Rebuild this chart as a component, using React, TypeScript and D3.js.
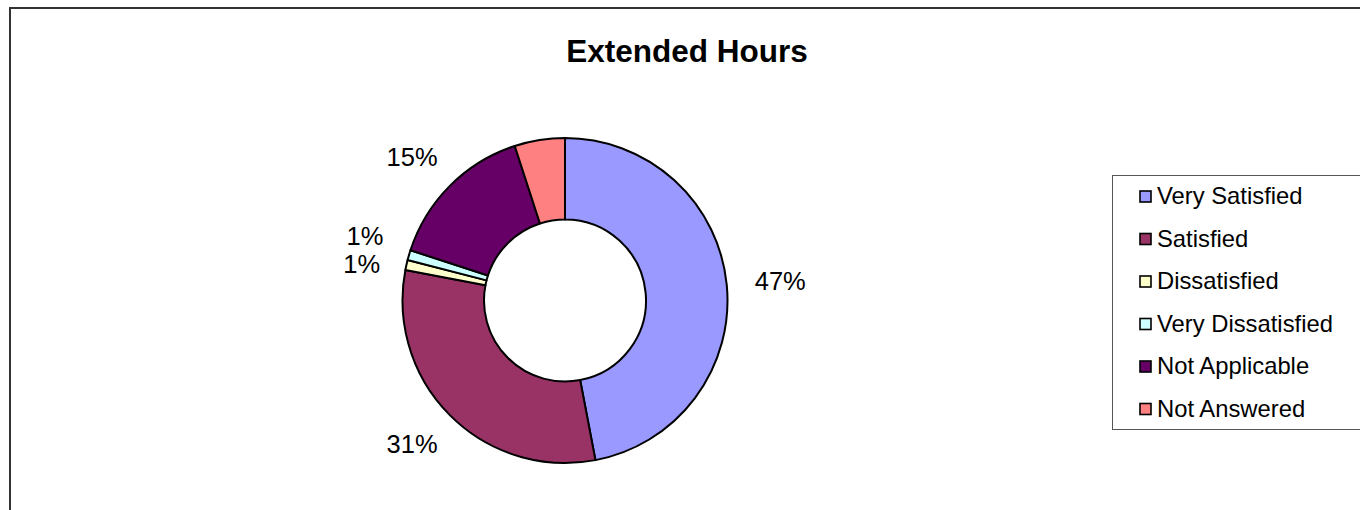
import React, { useEffect } from "react";
import * as d3 from "d3";

const categories = ["Very Satisfied", "Satisfied", "Dissatisfied", "Very Dissatisfied", "Not Applicable", "Not Answered"];
const values = [47, 31, 1, 1, 15, 5];
const showLabel = [true, true, true, true, true, false];
const colors = ["#9999FF", "#993366", "#FFFFCC", "#CCFFFF", "#660066", "#FF8080"];
const title = "Extended Hours";

const W = 1360;
const H = 510;

export default function App() {
  useEffect(() => {
    document.body.style.margin = "0";
  }, []);

  const cx = 565;
  const cy = 300.5;
  const rOut = 162.5;
  const rIn = 81;

  const total = d3.sum(values);
  const pie = d3.pie<number>().sort(null).value((d) => d);
  const arcs = pie(values);
  const arcGen = d3.arc<d3.PieArcDatum<number>>().innerRadius(rIn).outerRadius(rOut);

  const labelFont = 25.5;
  const labelH = 20;
  const labels = arcs.map((a, i) => {
    const text = `${Math.round((values[i] / total) * 100)}%`;
    const theta = (a.startAngle + a.endAngle) / 2;
    const w = text.length * labelFont * 0.62;
    const R = rOut + 30;
    const ax = cx + R * Math.sin(theta);
    const ay = cy - R * Math.cos(theta);
    return {
      text,
      show: showLabel[i],
      x: ax + (w / 2) * Math.sin(theta),
      y: ay - (labelH / 2) * Math.cos(theta),
    };
  });
  // simple vertical collision avoidance for labels on the same side
  const minGap = 28;
  const shown = labels.filter((l) => l.show);
  for (let iter = 0; iter < 20; iter++) {
    for (let i = 0; i < shown.length; i++) {
      for (let j = i + 1; j < shown.length; j++) {
        const a = shown[i];
        const b = shown[j];
        if (Math.abs(a.x - b.x) < 60 && Math.abs(a.y - b.y) < minGap) {
          const push = (minGap - Math.abs(a.y - b.y)) / 2;
          if (a.y <= b.y) {
            a.y -= push;
            b.y += push;
          } else {
            a.y += push;
            b.y -= push;
          }
        }
      }
    }
  }

  const legendX = 1112.5;
  const legendTop = 175.5;
  const legendBottom = 429.5;
  const rowY = d3.scalePoint<string>().domain(categories).range([196.5, 409]);

  return (
    <svg width={W} height={H} style={{ display: "block", background: "#fff" }}>
      <rect x={10} y={8} width={W + 20} height={H + 20} fill="#fff" stroke="#333" strokeWidth={2} />
      <text
        x={687}
        y={62}
        textAnchor="middle"
        fontFamily="'Liberation Sans', Arial, sans-serif"
        fontWeight="bold"
        fontSize={31.5}
        fill="#000"
      >
        {title}
      </text>
      <g transform={`translate(${cx},${cy})`}>
        {arcs.map((a, i) => (
          <path key={i} d={arcGen(a) || ""} fill={colors[i]} stroke="#000" strokeWidth={2} strokeLinejoin="round" />
        ))}
      </g>
      {labels.map((l, i) =>
        l.show ? (
          <text
            key={i}
            x={l.x}
            y={l.y}
            textAnchor="middle"
            dominantBaseline="central"
            fontFamily="'Liberation Sans', Arial, sans-serif"
            fontSize={labelFont}
            fill="#000"
          >
            {l.text}
          </text>
        ) : null
      )}
      <rect
        x={legendX}
        y={legendTop}
        width={W}
        height={legendBottom - legendTop}
        fill="#fff"
        stroke="#555"
        strokeWidth={1}
      />
      {categories.map((c, i) => {
        const y = rowY(c) as number;
        return (
          <g key={c}>
            <rect x={1140} y={y - 5.5} width={11} height={11} fill={colors[i]} stroke="#000" strokeWidth={1.6} />
            <text
              x={1157}
              y={y + 7.5}
              fontFamily="'Liberation Sans', Arial, sans-serif"
              fontSize={23.8}
              fill="#000"
            >
              {c}
            </text>
          </g>
        );
      })}
    </svg>
  );
}
